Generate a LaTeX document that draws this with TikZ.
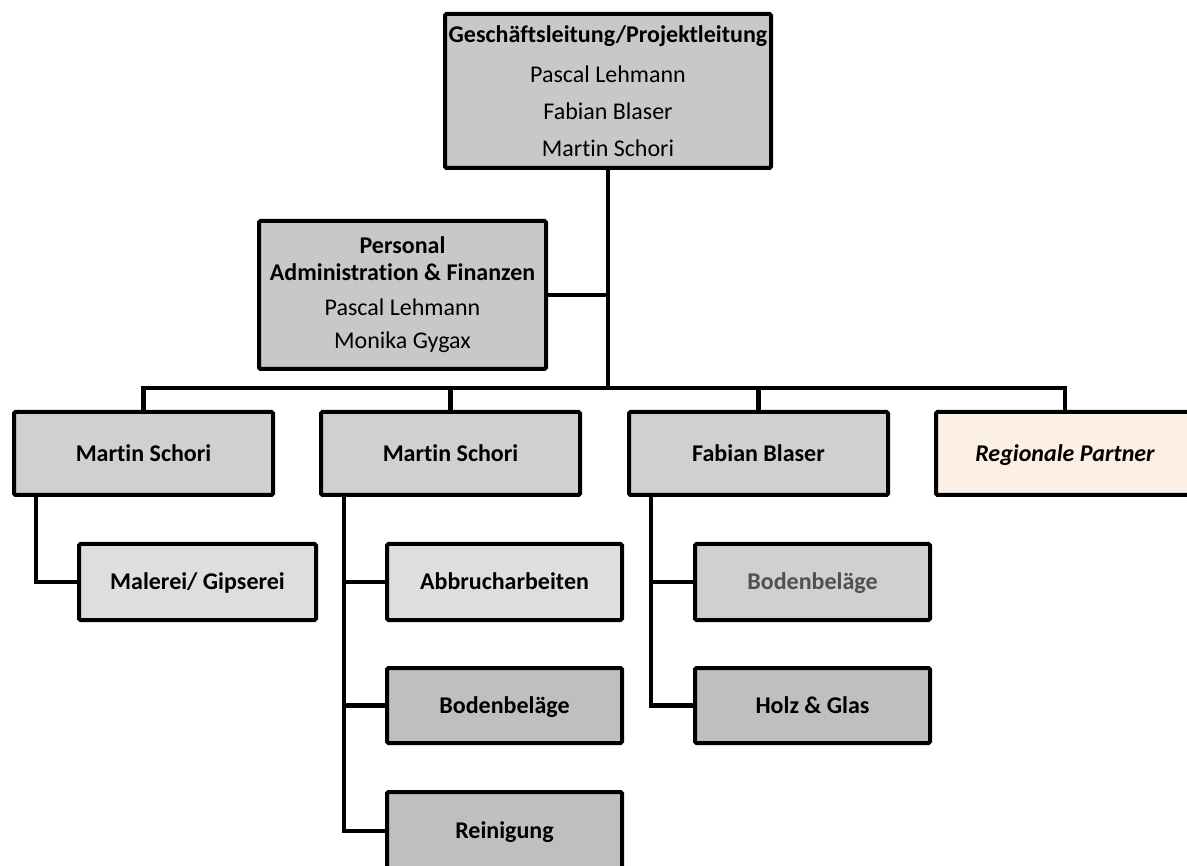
\documentclass[tikz,border=0pt]{standalone}
\usepackage{fontspec}
\setmainfont{Carlito}[Ligatures={TeX,NoCommon}]
\definecolor{gtop}{HTML}{C8C8C8}
\definecolor{gmid}{HTML}{D0D0D0}
\definecolor{glight}{HTML}{DEDEDE}
\definecolor{gdark}{HTML}{BFBFBF}
\definecolor{peach}{HTML}{FCEFE3}
\definecolor{gtext}{HTML}{505050}
\begin{document}
\begin{tikzpicture}[x=1pt,y=-1pt,
  box/.style={draw=black, line width=4pt, rounded corners=1.5pt, inner sep=0pt,
    align=center, font=\fontsize{24}{29}\selectfont\bfseries},
  onel/.style={text height=15.5pt, text depth=0pt},
  unitbox/.style={box, onel, minimum width=259pt, minimum height=83pt},
  subbox/.style={box, onel, minimum width=235pt, minimum height=76pt},
  conn/.style={draw=black, line width=4.8pt}]
\useasboundingbox (0,0) rectangle (1187,866);
\clip (0,0) rectangle (1187,866);

% top
\node[box, fill=gtop, minimum width=326pt, minimum height=154pt,
  font=\fontsize{24}{37}\selectfont] (top) at (608,91)
  {\textbf{Geschäftsleitung/Projektleitung}\\[3pt]Pascal Lehmann\\Fabian Blaser\\Martin Schori};
\node[box, fill=gtop, minimum width=287pt, minimum height=148pt,
  font=\fontsize{24}{27}\selectfont] (pers) at (402.5,295)
  {\textbf{Personal}\\\textbf{Administration \& Finanzen}\\[8pt]Pascal Lehmann\\[6pt]Monika Gygax};

% level 2
\node[unitbox, fill=gmid] (A) at (143.5,453.5) {Martin Schori};
\node[unitbox, fill=gmid] (B) at (450.5,453.5) {Martin Schori};
\node[unitbox, fill=gmid] (C) at (758.5,453.5) {Fabian Blaser};
\node[unitbox, fill=peach, minimum width=258pt] (D) at (1065,453.5) {\itshape Regionale Partner};

% level 3
\node[subbox, fill=glight, minimum width=237pt] (mal) at (197.5,582) {Malerei/ Gipserei};
\node[subbox, fill=glight] (abb) at (504.5,582) {Abbrucharbeiten};
\node[subbox, fill=gdark, minimum height=75pt] (bodB) at (504.5,705.5) {Bodenbeläge};
\node[subbox, fill=gdark, minimum height=78pt] (rein) at (504.5,831) {Reinigung};
\node[subbox, fill=gmid, text=gtext] (bodC) at (812.5,582) {Bodenbeläge};
\node[subbox, fill=gdark, minimum height=75pt] (holz) at (812.5,705.5) {Holz \& Glas};

% connectors
\coordinate (bus) at (608,388);
\draw[conn] (top.south) -- (bus);
\draw[conn] (pers.east) -- (pers.east -| top.south);
\draw[conn] (A.north) |- (bus);
\draw[conn] (B.north) |- (bus);
\draw[conn] (C.north) |- (bus);
\draw[conn] (D.north) |- (bus);
\draw[conn] ([xshift=24pt]A.south west) |- (mal.west);
\draw[conn] ([xshift=25pt]B.south west) |- (rein.west);
\draw[conn] ([xshift=25pt]B.south west) |- (abb.west);
\draw[conn] ([xshift=25pt]B.south west) |- (bodB.west);
\draw[conn] ([xshift=24pt]C.south west) |- (holz.west);
\draw[conn] ([xshift=24pt]C.south west) |- (bodC.west);
\end{tikzpicture}
\end{document}
